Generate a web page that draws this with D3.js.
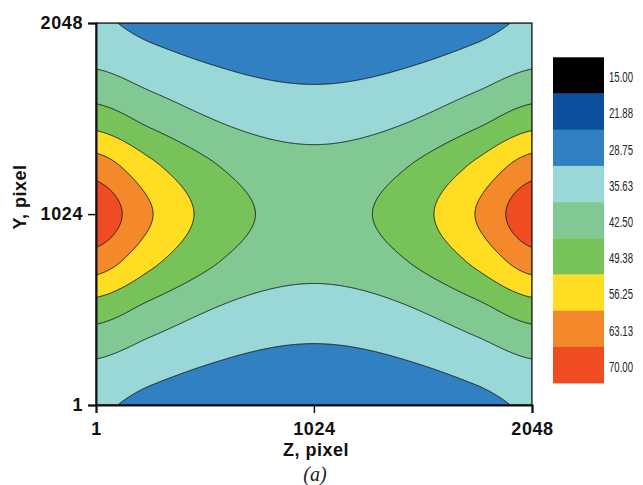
<!DOCTYPE html>
<html>
<head>
<meta charset="utf-8">
<script src="https://cdn.jsdelivr.net/npm/d3@7"></script>
<style>
  html, body { margin: 0; padding: 0; background: #ffffff; }
  svg { display: block; }
</style>
</head>
<body>
<svg id="chart" width="643" height="485"></svg>
<script>
// Axis ticks
const zTicks = [1, 1024, 2048];
const yTicks = [1, 1024, 2048];

// Contour levels and their fill colours (lowest to highest)
const levels = [15.00, 21.88, 28.75, 35.63, 42.50, 49.38, 56.25, 63.13, 70.00];
const levelColors = ["#000000", "#0a4fa0", "#3180c2", "#9ad8d8", "#82c893",
                     "#78c25a", "#fedd22", "#f3892a", "#f04c23"];

// Sample positions of the measured field (pixels along Z and Y)
const zNodes = [1, 257, 513, 768, 1024, 1280, 1536, 1792, 2048];
const yNodes = [1, 257, 513, 768, 1024, 1280, 1536, 1792, 2048];

// Field values: one row per Y node (from Y = 1 upwards), one column per Z node
const fieldGrid = [
  [36.5, 33.9, 31.8, 30.4, 30.0, 30.4, 31.8, 33.9, 36.5],
  [42.8, 39.4, 36.6, 34.9, 34.3, 34.9, 36.6, 39.4, 42.8],
  [52.9, 47.4, 42.9, 40.1, 39.2, 40.1, 42.9, 47.4, 52.9],
  [66.6, 57.8, 50.8, 46.4, 44.9, 46.4, 50.8, 57.8, 66.6],
  [74.8, 63.6, 54.7, 49.1, 47.2, 49.1, 54.7, 63.6, 74.8],
  [66.6, 57.8, 50.8, 46.4, 44.9, 46.4, 50.8, 57.8, 66.6],
  [52.9, 47.4, 42.9, 40.1, 39.2, 40.1, 42.9, 47.4, 52.9],
  [42.8, 39.4, 36.6, 34.9, 34.3, 34.9, 36.6, 39.4, 42.8],
  [36.5, 33.9, 31.8, 30.4, 30.0, 30.4, 31.8, 33.9, 36.5]
];

const svg = d3.select("#chart");
const plot = { left: 96, right: 532, top: 23, bottom: 405 };

const x = d3.scaleLinear().domain([1, 2048]).range([plot.left, plot.right]);
const y = d3.scaleLinear().domain([1, 2048]).range([plot.bottom, plot.top]);

// Smooth (Catmull-Rom) resampling of the measured grid for contouring
const zIndex = d3.scaleLinear().domain(zNodes).range(d3.range(zNodes.length));
const yIndex = d3.scaleLinear().domain(yNodes).range(d3.range(yNodes.length));

function cubic(p0, p1, p2, p3, t) {
  return 0.5 * (2 * p1 + (-p0 + p2) * t +
    (2 * p0 - 5 * p1 + 4 * p2 - p3) * t * t +
    (-p0 + 3 * p1 - 3 * p2 + p3) * t * t * t);
}
function sampleField(gi, gj) {
  const nz = zNodes.length, ny = yNodes.length;
  const clampZ = k => Math.max(0, Math.min(nz - 1, k));
  const clampY = k => Math.max(0, Math.min(ny - 1, k));
  const i1 = Math.min(nz - 2, Math.floor(gi)), ti = gi - i1;
  const j1 = Math.min(ny - 2, Math.floor(gj)), tj = gj - j1;
  const rows = [];
  for (let dj = -1; dj <= 2; dj++) {
    const r = fieldGrid[clampY(j1 + dj)];
    rows.push(cubic(r[clampZ(i1 - 1)], r[clampZ(i1)], r[clampZ(i1 + 1)], r[clampZ(i1 + 2)], ti));
  }
  return cubic(rows[0], rows[1], rows[2], rows[3], tj);
}

const nx = Math.round(plot.right - plot.left);
const ny = Math.round(plot.bottom - plot.top);
const gridZ = d3.scaleLinear().domain([0, nx]).range([1, 2048]);
const gridY = d3.scaleLinear().domain([0, ny]).range([2048, 1]);

const values = new Float64Array(nx * ny);
for (let j = 0; j < ny; j++) {
  const gj = yIndex(gridY(j + 0.5));
  for (let i = 0; i < nx; i++) {
    values[j * nx + i] = sampleField(zIndex(gridZ(i + 0.5)), gj);
  }
}

const contours = d3.contours().size([nx, ny]).thresholds(levels)(values);
const colorOf = d3.scaleOrdinal().domain(levels).range(levelColors);

const project = d3.geoPath(d3.geoTransform({
  point(px, py) { this.stream.point(x(gridZ(px)), y(gridY(py))); }
}));

svg.append("clipPath").attr("id", "plot-clip")
  .append("rect")
  .attr("x", plot.left).attr("y", plot.top)
  .attr("width", plot.right - plot.left).attr("height", plot.bottom - plot.top);

const g = svg.append("g").attr("clip-path", "url(#plot-clip)");
g.selectAll("path.band")
  .data(contours)
  .join("path")
  .attr("class", "band")
  .attr("d", project)
  .attr("fill", d => colorOf(d.value))
  .attr("stroke", "#101010")
  .attr("stroke-width", 0.9)
  .attr("stroke-linejoin", "round");

// Frame
svg.append("rect")
  .attr("x", plot.left).attr("y", plot.top)
  .attr("width", plot.right - plot.left).attr("height", plot.bottom - plot.top)
  .attr("fill", "none").attr("stroke", "#1a1a1a").attr("stroke-width", 1.2);

// Axes
const tickFont = "'Liberation Sans', Arial, sans-serif";
const xAxis = svg.append("g")
  .attr("transform", `translate(0,${plot.bottom})`)
  .call(d3.axisBottom(x).tickValues(zTicks).tickSize(8).tickPadding(6).tickFormat(d3.format("d")));
const yAxis = svg.append("g")
  .attr("transform", `translate(${plot.left},0)`)
  .call(d3.axisLeft(y).tickValues(yTicks).tickSize(8).tickPadding(5).tickFormat(d3.format("d")));

[xAxis, yAxis].forEach(ax => {
  ax.select(".domain").attr("stroke", "#111").attr("stroke-width", 2);
  ax.selectAll(".tick line").attr("stroke", "#111").attr("stroke-width", 1.5);
  ax.selectAll(".tick text")
    .attr("fill", "#111")
    .style("font-family", tickFont)
    .style("font-weight", "bold")
    .style("font-size", "18px")
    .style("letter-spacing", "0.6px");
});
xAxis.selectAll(".tick text").attr("dy", "0.9em");

// Axis titles
svg.append("text")
  .attr("x", 316).attr("y", 456)
  .attr("text-anchor", "middle")
  .style("font-family", tickFont).style("font-weight", "bold").style("font-size", "18px")
  .style("letter-spacing", "0.5px")
  .attr("fill", "#111")
  .text("Z, pixel");

svg.append("text")
  .attr("transform", "translate(26,197) rotate(-90)")
  .attr("text-anchor", "middle")
  .style("font-family", tickFont).style("font-weight", "bold").style("font-size", "18px")
  .style("letter-spacing", "0.5px")
  .attr("fill", "#111")
  .text("Y, pixel");

svg.append("text")
  .attr("x", 315).attr("y", 481)
  .attr("text-anchor", "middle")
  .style("font-family", "'Liberation Serif', 'Times New Roman', serif")
  .style("font-style", "italic").style("font-size", "20px")
  .attr("fill", "#222")
  .text("(a)");

// Colour legend
const legend = { x: 553, top: 57.3, w: 51, h: 36.2 };
const lg = svg.append("g");
lg.selectAll("rect")
  .data(levels)
  .join("rect")
  .attr("x", legend.x)
  .attr("y", (d, k) => legend.top + k * legend.h)
  .attr("width", legend.w)
  .attr("height", legend.h + 0.3)
  .attr("fill", d => colorOf(d));
lg.selectAll("text")
  .data(levels)
  .join("text")
  .attr("x", legend.x + legend.w + 5)
  .attr("y", (d, k) => legend.top + k * legend.h + 20)
  .attr("dy", "0.35em")
  .attr("textLength", 24)
  .attr("lengthAdjust", "spacingAndGlyphs")
  .style("font-family", "'Liberation Sans Narrow', 'Arial Narrow', 'Liberation Sans', sans-serif")
  .style("font-size", "14px")
  .attr("fill", "#222")
  .text(d => d3.format(".2f")(d));
</script>
</body>
</html>
